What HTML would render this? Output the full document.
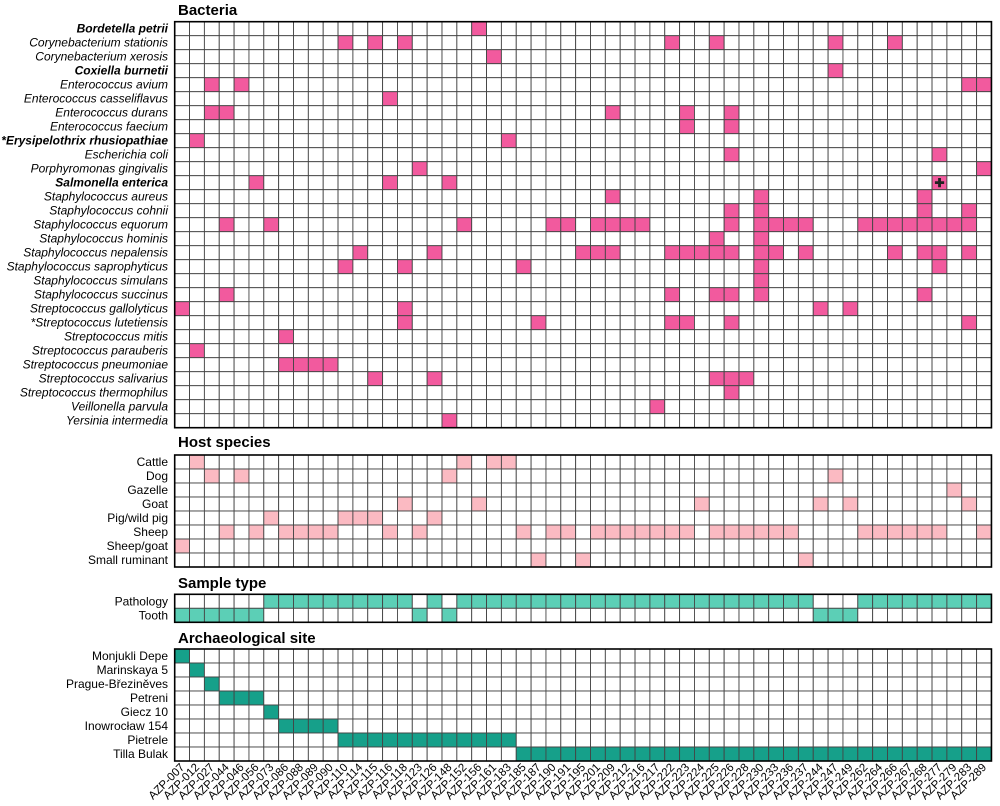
<!DOCTYPE html>
<html><head><meta charset="utf-8">
<style>
html,body{margin:0;padding:0;background:#fff;}
svg{display:block;font-family:"Liberation Sans",sans-serif;}
</style></head>
<body>
<svg id="chart" width="1000" height="806" viewBox="0 0 1000 806" xmlns="http://www.w3.org/2000/svg"></svg>
<script>
const samples = ["AZP-007","AZP-012","AZP-027","AZP-044","AZP-046","AZP-056","AZP-073","AZP-086","AZP-088","AZP-089","AZP-090","AZP-110","AZP-114","AZP-115","AZP-116","AZP-118","AZP-123","AZP-126","AZP-148","AZP-152","AZP-156","AZP-161","AZP-183","AZP-185","AZP-187","AZP-190","AZP-191","AZP-195","AZP-201","AZP-209","AZP-212","AZP-216","AZP-217","AZP-222","AZP-223","AZP-224","AZP-225","AZP-226","AZP-228","AZP-230","AZP-233","AZP-236","AZP-237","AZP-244","AZP-247","AZP-249","AZP-262","AZP-264","AZP-266","AZP-267","AZP-268","AZP-277","AZP-279","AZP-283","AZP-289"];
const bacteria = ["Bordetella petrii","Corynebacterium stationis","Corynebacterium xerosis","Coxiella burnetii","Enterococcus avium","Enterococcus casseliflavus","Enterococcus durans","Enterococcus faecium","*Erysipelothrix rhusiopathiae","Escherichia coli","Porphyromonas gingivalis","Salmonella enterica","Staphylococcus aureus","Staphylococcus cohnii","Staphylococcus equorum","Staphylococcus hominis","Staphylococcus nepalensis","Staphylococcus saprophyticus","Staphylococcus simulans","Staphylococcus succinus","Streptococcus gallolyticus","*Streptococcus lutetiensis","Streptococcus mitis","Streptococcus parauberis","Streptococcus pneumoniae","Streptococcus salivarius","Streptococcus thermophilus","Veillonella parvula","Yersinia intermedia"];
const bacteriaBold = [0,3,8,11];
const bacteriaHits = [
 [20],[11,13,15,33,36,44,48],[21],[44],[2,4,53,54],[14],[2,3,29,34,37],[34,37],[1,22],[37,51],
 [16,54],[5,14,18,51],[29,39,50],[37,39,50,53],
 [3,6,19,25,26,28,29,30,31,37,39,40,41,42,46,47,48,49,50,51,52,53],
 [36,39],[12,17,27,28,29,33,34,35,36,37,39,40,42,48,50,51,53],[11,15,23,39,51],[39],[3,33,36,37,39,50],
 [0,15,43,45],[15,24,33,34,37,53],[7],[1],[7,8,9,10],[13,17,36,37,38],[37],[32],[18]
];
const crossMark = [11,51];
const hosts = ["Cattle","Dog","Gazelle","Goat","Pig/wild pig","Sheep","Sheep/goat","Small ruminant"];
const hostHits = [
 [1,19,21,22],[2,4,18,44],[52],[15,20,35,43,45,53],[6,11,12,13,17],
 [3,5,7,8,9,10,14,16,23,25,26,28,29,30,31,32,33,34,36,37,38,39,40,41,46,47,48,49,50,51,54],
 [0],[24,27,42]
];
const sampleTypes = ["Pathology","Tooth"];
const toothCols = [0,1,2,3,4,5,16,18,43,44,45];
const sites = ["Monjukli Depe","Marinskaya 5","Prague-Březiněves","Petreni","Giecz 10","Inowrocław 154","Pietrele","Tilla Bulak"];
const siteOf = [0,1,2,3,3,3,4,5,5,5,5,6,6,6,6,6,6,6,6,6,6,6,6,7,7,7,7,7,7,7,7,7,7,7,7,7,7,7,7,7,7,7,7,7,7,7,7,7,7,7,7,7,7,7,7];

const NS="http://www.w3.org/2000/svg";
const svg=document.getElementById('chart');
const X0=174.7, CW=14.85, RH=14;
const xOf=c=>X0+c*CW;
const W=CW*samples.length;
function el(tag,attrs,parent){const e=document.createElementNS(NS,tag);for(const k in attrs)e.setAttribute(k,attrs[k]);(parent||svg).appendChild(e);return e;}

function panel(name,title,titleY,top,rows,fillFn,labelFn){
  const g=el('g',{});
  
  
  const t=el('text',{x:178,y:titleY,'font-size':15,'font-weight':'bold',fill:'#000'},g);
  t.textContent=title;
  
  
  for(let r=0;r<rows.length;r++){
    for(let c=0;c<samples.length;c++){
      const f=fillFn(r,c);
      const rc=el('rect',{x:xOf(c),y:top+r*RH,width:CW,height:RH,fill:f||'#fff',stroke:'#444','stroke-width':0.9},g);
      
      
    }
    const lb=el('text',{x:168,y:top+r*RH+RH/2+4,'font-size':12,'text-anchor':'end',fill:'#000'},g);
    labelFn(lb,r);
    
    
  }
  const b=el('rect',{x:X0,y:top,width:W,height:rows.length*RH,fill:'none',stroke:'#000','stroke-width':1.6},g);
  
  
}

panel('bacteria-panel','Bacteria',15,21.7,bacteria,
  (r,c)=>bacteriaHits[r].includes(c)?'#f25a9e':null,
  (t,r)=>{t.textContent=bacteria[r];t.setAttribute('font-style','italic');if(bacteriaBold.includes(r))t.setAttribute('font-weight','bold');});
const cm=el('text',{x:xOf(crossMark[1])+CW/2,y:21.7+crossMark[0]*RH+RH/2+4.5,'font-size':12,'font-weight':'bold','text-anchor':'middle',fill:'#222'});
cm.textContent='✚';



panel('host-panel','Host species',447,455,hosts,
  (r,c)=>hostHits[r].includes(c)?'#fbbac2':null,
  (t,r)=>{t.textContent=hosts[r];});

panel('sample-type-panel','Sample type',588,594.3,sampleTypes,
  (r,c)=>{const tooth=toothCols.includes(c);return (r===1)===tooth?'#5ccfb6':null;},
  (t,r)=>{t.textContent=sampleTypes[r];});

panel('site-panel','Archaeological site',643,649,sites,
  (r,c)=>siteOf[c]===r?'#16a08a':null,
  (t,r)=>{t.textContent=sites[r];});

for(let c=0;c<samples.length;c++){
  const x=xOf(c)+CW/2+3, y=768;
  const t=el('text',{x:x,y:y,'font-size':11.5,'text-anchor':'end',fill:'#000',transform:`rotate(-45 ${x} ${y})`});
  t.textContent=samples[c];
  
  
}
</script>
</body></html>
